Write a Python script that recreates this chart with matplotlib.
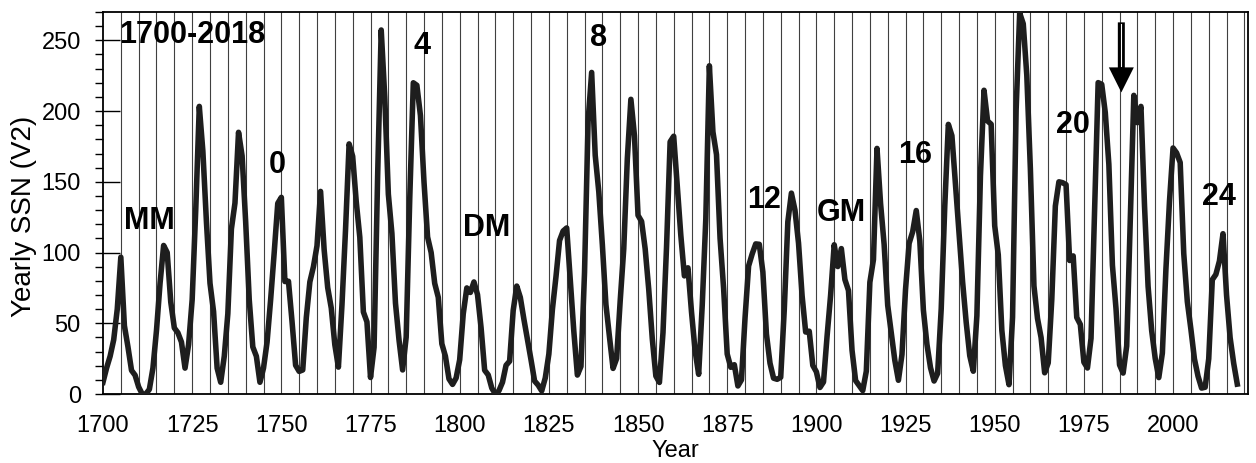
import matplotlib
matplotlib.use('agg')
import matplotlib.pyplot as plt
from matplotlib.ticker import MultipleLocator

# yearly sunspot number (V2), 1700-2018
years = list(range(1700, 2019))
ssn = [
    8.3, 18.3, 26.7, 38.3, 60.0, 96.7, 48.3, 33.3, 16.7, 13.3,
    5.0, 0.0, 0.0, 3.3, 18.3, 45.0, 78.3, 105.0, 100.0, 65.0,
    46.7, 43.3, 36.7, 18.3, 35.0, 66.7, 130.0, 203.3, 171.7, 121.7,
    78.3, 58.3, 18.3, 8.3, 26.7, 56.7, 116.7, 135.0, 185.0, 168.3,
    121.7, 66.7, 33.3, 26.7, 8.3, 18.3, 36.7, 66.7, 100.0, 134.8,
    139.0, 79.5, 79.7, 51.2, 20.3, 16.0, 17.0, 54.0, 79.3, 90.0,
    104.8, 143.2, 102.0, 75.2, 60.7, 34.8, 19.0, 63.0, 116.3, 176.8,
    168.0, 136.0, 110.8, 58.0, 51.0, 11.7, 33.0, 154.2, 257.3, 209.8,
    141.3, 113.5, 64.2, 38.0, 17.0, 40.2, 138.2, 220.0, 218.2, 196.8,
    149.8, 111.0, 100.0, 78.2, 68.3, 35.5, 26.7, 10.7, 6.8, 11.3,
    24.2, 56.7, 75.0, 71.8, 79.2, 70.3, 46.8, 16.8, 13.5, 4.2,
    0.0, 2.3, 8.3, 20.3, 23.2, 59.0, 76.3, 68.3, 52.9, 38.5,
    24.2, 9.2, 6.3, 2.2, 11.4, 28.2, 59.9, 83.0, 108.5, 115.2,
    117.4, 80.8, 44.3, 13.4, 19.5, 85.8, 192.7, 227.3, 168.7, 143.0,
    105.5, 63.3, 40.3, 18.1, 25.1, 65.8, 102.7, 166.3, 208.3, 182.5,
    126.3, 122.0, 102.7, 74.1, 39.0, 12.7, 8.2, 43.4, 104.4, 178.3,
    182.2, 146.6, 112.1, 83.5, 89.2, 57.8, 30.7, 13.9, 62.8, 123.6,
    232.0, 185.3, 169.2, 110.1, 74.5, 28.3, 18.9, 20.7, 5.7, 10.0,
    53.7, 90.5, 99.0, 106.1, 105.8, 86.3, 42.4, 21.8, 11.2, 10.4,
    11.8, 59.5, 121.7, 142.0, 130.0, 106.6, 69.4, 43.8, 44.4, 20.2,
    15.7, 4.6, 8.5, 40.8, 70.1, 105.5, 90.1, 102.8, 80.9, 73.2,
    30.9, 9.5, 6.0, 2.4, 16.1, 79.0, 95.0, 173.6, 134.6, 105.7,
    62.7, 43.5, 23.7, 9.7, 27.9, 74.0, 106.5, 114.7, 129.7, 108.2,
    59.4, 35.1, 18.6, 9.2, 14.6, 60.2, 132.8, 190.6, 182.6, 148.0,
    113.0, 79.2, 50.8, 27.1, 16.1, 55.3, 154.3, 214.7, 193.0, 190.7,
    118.9, 98.3, 45.0, 20.1, 6.6, 54.2, 200.7, 269.3, 261.7, 225.1,
    159.0, 76.4, 53.4, 39.9, 15.0, 22.0, 66.8, 132.9, 150.0, 149.4,
    148.0, 94.4, 97.6, 54.1, 49.2, 22.5, 18.4, 39.3, 131.0, 220.1,
    218.9, 198.9, 162.4, 91.0, 60.5, 20.6, 14.8, 33.9, 123.0, 211.1,
    191.8, 203.3, 133.0, 76.1, 44.9, 25.1, 11.6, 28.9, 88.3, 136.3,
    173.9, 170.4, 163.6, 99.3, 65.3, 45.8, 24.7, 12.6, 4.2, 4.8,
    24.9, 80.8, 84.5, 94.0, 113.3, 69.8, 39.8, 21.7, 7.0,
]

grid_years = list(range(1705, 2021, 5))

# annotation labels: (text, year, value)
labels = [
    ("1700-2018", 1704.6, 254),
    ("MM", 1713, 122),
    ("0", 1748.8, 162),
    ("4", 1789.4, 246),
    ("DM", 1807.6, 117),
    ("8", 1838.8, 252),
    ("12", 1885.3, 137),
    ("GM", 1907, 128),
    ("16", 1927.6, 169),
    ("20", 1971.9, 190),
    ("24", 2012.9, 139),
]
arrow_year = 1985.5
arrow_top = 262.7
arrow_tip = 213.2

FONT = 'Liberation Sans'

fig = plt.figure(figsize=(12.56, 4.63), dpi=100)
ax = fig.add_axes([0.082, 0.149, 0.9116, 0.825])

for g in grid_years:
    ax.axvline(g, color='0.25', lw=0.8, zorder=1)

ax.plot(years, ssn, color='#1e1e1e', lw=4, zorder=3)

for txt, x, y in labels:
    ha = 'left' if txt == "1700-2018" else 'center'
    ax.text(x, y, txt, fontsize=22, fontweight='bold', ha=ha, va='center',
            zorder=4, family=FONT)

ax.annotate('', xy=(arrow_year, arrow_tip), xytext=(arrow_year, arrow_top),
            arrowprops=dict(arrowstyle='simple,head_length=1.0,head_width=1.0,tail_width=0.28',
                            mutation_scale=18, fc='black', ec='none', lw=0,
                            shrinkA=0, shrinkB=0), zorder=5)
ax.plot([arrow_year, arrow_year], [232, arrow_top - 1], color='white',
        lw=0.8, zorder=6)

ax.set_xlim(1700, 2021)
ax.set_ylim(0, 270)
ax.xaxis.set_major_locator(MultipleLocator(25))
ax.yaxis.set_major_locator(MultipleLocator(50))
ax.yaxis.set_minor_locator(MultipleLocator(10))
ax.yaxis.remove_overlapping_locs = False
ax.tick_params(axis='y', which='major', direction='in', length=12, width=1,
               labelsize=17, pad=16)
ax.tick_params(axis='y', which='minor', direction='out', length=6, width=1)
ax.tick_params(axis='x', which='major', direction='in', length=0,
               labelsize=17, pad=15)
for lab in ax.get_xticklabels() + ax.get_yticklabels():
    lab.set_family(FONT)

for s in ax.spines.values():
    s.set_linewidth(1.3)

ax.set_xlabel('Year', fontsize=17, family=FONT)
ax.set_ylabel('Yearly SSN (V2)', fontsize=20, family=FONT)
ax.yaxis.set_label_coords(-0.058, 0.466)
ax.xaxis.set_label_coords(0.5, -0.12)

fig.savefig('out.png', dpi=100)
